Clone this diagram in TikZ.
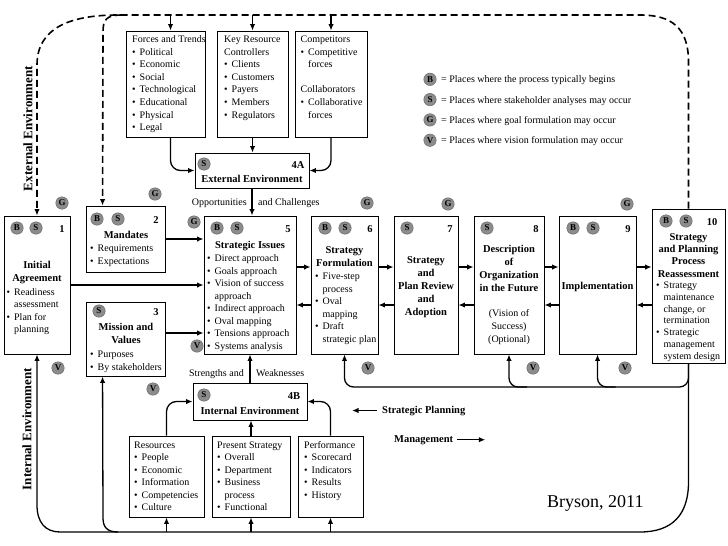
\documentclass[tikz,border=0pt]{standalone}
\usepackage{fontspec}
\setmainfont{Liberation Serif}
\usetikzlibrary{arrows.meta,calc}
\newcommand{\bulmark}{\makebox[7.5pt][l]{\textbullet}}
\newcommand{\bulskip}{\hspace*{7.5pt}}

\begin{document}
\begin{tikzpicture}[x=1pt,y=1pt,yscale=-1,
  font=\fontsize{10}{12.5}\selectfont,
  box/.style={draw, line width=0.9pt, inner sep=0pt},
  badge/.style={circle, fill=black!45, draw=black!60, line width=0.4pt, inner sep=0pt, minimum size=12.5pt, font=\fontsize{9}{9}\selectfont\bfseries},
  head/.style={anchor=base, align=center, inner sep=0pt, font=\fontsize{10.5}{13.3}\selectfont\bfseries},
  num/.style={anchor=base, inner sep=0pt, font=\fontsize{10.5}{13}\selectfont\bfseries},
  items/.style={anchor=base west, align=left, inner sep=0pt},
  flow/.style={line width=1.3pt, -{Latex[length=6.5pt,width=5.5pt]}},
  envflow/.style={line width=1.6pt, dash pattern=on 7pt off 4pt},
  sidelabel/.style={rotate=90, inner sep=0pt, font=\fontsize{13}{13}\selectfont\bfseries}]
\useasboundingbox (0,0) rectangle (728,546);

%Shape: Boxes
\node[box, minimum width=66, minimum height=138] (agree) at (37,285) {};
\node[box, minimum width=79, minimum height=66] (mand) at (125.5,239) {};
\node[box, minimum width=79, minimum height=74] (miss) at (125.5,339) {};
\node[box, minimum width=114, minimum height=35] (extenv) at (252,170.5) {};
\node[box, minimum width=114, minimum height=37] (intenv) at (250,401.5) {};
\node[box, minimum width=92, minimum height=138] (issues) at (250,285) {};
\node[box, minimum width=67, minimum height=138] (form) at (344.5,285) {};
\node[box, minimum width=64, minimum height=138] (review) at (426,285) {};
\node[box, minimum width=70, minimum height=138] (vision) at (509,285) {};
\node[box, minimum width=77, minimum height=138] (impl) at (597.5,285) {};
\node[box, minimum width=73, minimum height=154] (reass) at (688.5,286) {};
\node[box, minimum width=79, minimum height=106] (forces) at (165.5,84) {};
\node[box, minimum width=71, minimum height=106] (keyres) at (252.5,84) {};
\node[box, minimum width=72, minimum height=106] (compet) at (331,84) {};
\node[box, minimum width=75, minimum height=81] (resour) at (166.5,476.5) {};
\node[box, minimum width=78, minimum height=81] (present) at (251,476.5) {};
\node[box, minimum width=65, minimum height=81] (perform) at (330.5,476.5) {};

% Text Node: 1 (multi-line nodes sit on their last baseline)
\node[badge] (agree-b) at (17,228) {B};
\node[badge] (agree-s) at (36,228) {S};
\node[num] (agree-n) at (62,232) {1};
\node[head] (agree-t) at (37,281.8) {Initial\\Agreement};
\node[items, font=\fontsize{10}{12.4}\selectfont] (agree-l) at (6.5,332.7) {\bulmark Readiness\\\bulskip assessment\\\bulmark Plan for\\\bulskip planning};
% Text Node: 2
\node[badge] (mand-b) at (97,219) {B};
\node[badge] (mand-s) at (118,219) {S};
\node[num] (mand-n) at (156,223) {2};
\node[head] (mand-t) at (126,238) {Mandates};
\node[items, font=\fontsize{10}{13.3}\selectfont] (mand-l) at (90,264.3) {\bulmark Requirements\\\bulmark Expectations};
% Text Node: 3
\node[badge] (miss-s) at (99,311) {S};
\node[num] (miss-n) at (156,315) {3};
\node[head] (miss-t) at (126,343.3) {Mission and\\Values};
\node[items, font=\fontsize{10}{13.3}\selectfont] (miss-l) at (90,370.3) {\bulmark Purposes\\\bulmark By stakeholders};
% Text Node: 4A
\node[badge] (extenv-s) at (204,164) {S};
\node[num] (extenv-n) at (298,168) {4A};
\node[head] (extenv-t) at (252,182) {External Environment};
% Text Node: 4B
\node[badge] (intenv-s) at (204,395) {S};
\node[num] (intenv-n) at (294,399) {4B};
\node[head] (intenv-t) at (250,414) {Internal Environment};
% Text Node: 5
\node[badge] (issues-b) at (217,228) {B};
\node[badge] (issues-s) at (237,228) {S};
\node[num] (issues-n) at (288,232) {5};
\node[head] (issues-t) at (250,248.5) {Strategic Issues};
\node[items] (issues-l) at (207,349) {\bulmark Direct approach\\\bulmark Goals approach\\\bulmark Vision of success\\\bulskip approach\\\bulmark Indirect approach\\\bulmark Oval mapping\\\bulmark Tensions approach\\\bulmark Systems analysis};
% Text Node: 6
\node[badge] (form-b) at (325,228) {B};
\node[badge] (form-s) at (345,228) {S};
\node[num] (form-n) at (370,232) {6};
\node[head] (form-t) at (344.5,266.8) {Strategy\\Formulation};
\node[items] (form-l) at (315,342) {\bulmark Five-step\\\bulskip process\\\bulmark Oval\\\bulskip mapping\\\bulmark Draft\\\bulskip strategic plan};
% Text Node: 7
\node[badge] (review-s) at (407,228) {S};
\node[num] (review-n) at (450,232) {7};
\node[head, font=\fontsize{10.5}{13}\selectfont\bfseries] (review-t) at (426,315.5) {Strategy\\and\\Plan Review\\and\\Adoption};
% Text Node: 8
\node[badge] (vision-s) at (487,228) {S};
\node[num] (vision-n) at (536,232) {8};
\node[head, font=\fontsize{10.5}{13}\selectfont\bfseries] (vision-t) at (509,291.5) {Description\\of\\Organization\\in the Future};
\node[anchor=base, align=center, inner sep=0pt, font=\fontsize{10}{13}\selectfont] (vision-l) at (509,342.5) {(Vision of\\Success)\\(Optional)};
% Text Node: 9
\node[badge] (impl-b) at (573,228) {B};
\node[badge] (impl-s) at (593,228) {S};
\node[num] (impl-n) at (628,232) {9};
\node[head] (impl-t) at (597.5,289.5) {Implementation};
% Text Node: 10
\node[badge] (reass-b) at (666,221) {B};
\node[badge] (reass-s) at (686,221) {S};
\node[num] (reass-n) at (712,225) {10};
\node[head, font=\fontsize{10.5}{12.2}\selectfont\bfseries] (reass-t) at (688.5,277.1) {Strategy\\and Planning\\Process\\Reassessment};
\node[items, font=\fontsize{10}{11.8}\selectfont] (reass-l) at (656,359.3) {\bulmark Strategy\\\bulskip maintenance\\\bulskip change, or\\\bulskip termination\\\bulmark Strategic\\\bulskip management\\\bulskip system design};

% Text Node: outer boxes
\node[items, font=\fontsize{10}{12.6}\selectfont] (forces-l) at (132,130.7) {Forces and Trends\\\bulmark Political\\\bulmark Economic\\\bulmark Social\\\bulmark Technological\\\bulmark Educational\\\bulmark Physical\\\bulmark Legal};
\node[items, font=\fontsize{10}{12.6}\selectfont] (keyres-l) at (224,118.1) {Key Resource\\Controllers\\\bulmark Clients\\\bulmark Customers\\\bulmark Payers\\\bulmark Members\\\bulmark Regulators};
\node[items, font=\fontsize{10}{12.6}\selectfont] (compet-l) at (300.5,118.1) {Competitors\\\bulmark Competitive\\\bulskip forces\\\mbox{}\\Collaborators\\\bulmark Collaborative\\\bulskip forces};
\node[items, font=\fontsize{10}{12.4}\selectfont] (resour-l) at (134,510.5) {Resources\\\bulmark People\\\bulmark Economic\\\bulmark Information\\\bulmark Competencies\\\bulmark Culture};
\node[items, font=\fontsize{10}{12.4}\selectfont] (present-l) at (217,510.5) {Present Strategy\\\bulmark Overall\\\bulmark Department\\\bulmark Business\\\bulskip process\\\bulmark Functional};
\node[items, font=\fontsize{10}{12.4}\selectfont] (perform-l) at (304,498.1) {Performance\\\bulmark Scorecard\\\bulmark Indicators\\\bulmark Results\\\bulmark History};

% G and V marks
\node[badge] (agree-g) at (62,203) {G};
\node[badge] (mand-g) at (155,194) {G};
\node[badge] (issues-g) at (194,222) {G};
\node[badge] (form-g) at (367,203) {G};
\node[badge] (review-g) at (448,204) {G};
\node[badge] (impl-g) at (627,204) {G};
\node[badge] (agree-v) at (58,368) {V};
\node[badge] (miss-v) at (153,389) {V};
\node[badge] (issues-v) at (197,346) {V};
\node[badge] (form-v) at (368,368) {V};
\node[badge] (vision-v) at (533,368) {V};
\node[badge] (impl-v) at (625,368) {V};

% Legend
\foreach \l/\txt [count=\i] in {B/the process typically begins, S/stakeholder analyses may occur, G/goal formulation may occur, V/vision formulation may occur} {
  \node[badge] (leg-\l) at (430,{59+20.3*\i}) {\l};
  \node[anchor=base west, inner sep=0pt] (legtxt-\l) at (441,{62.5+20.3*\i}) {= Places where \txt};
}

% Text Node: side and loose labels
\node[sidelabel] (ext-lab) at (28,128.5) {External Environment};
\node[sidelabel] (int-lab) at (27,429) {Internal Environment};
\node[anchor=base east, inner sep=0pt] (opp-lab) at (247,205) {Opportunities};
\node[anchor=base west, inner sep=0pt] (chal-lab) at (258,205) {and Challenges};
\node[anchor=base east, inner sep=0pt] (str-lab) at (244,376) {Strengths and};
\node[anchor=base west, inner sep=0pt] (weak-lab) at (256,376) {Weaknesses};
\node[anchor=base west, inner sep=0pt, font=\fontsize{10.5}{12}\selectfont\bfseries] (splan) at (382,413) {Strategic Planning};
\node[anchor=base west, inner sep=0pt, font=\fontsize{10.5}{12}\selectfont\bfseries] (mgmt) at (394,442) {Management};
\node[anchor=base west, inner sep=0pt, font=\fontsize{18}{18}\selectfont] (cite) at (547,507) {Bryson, 2011};

%Straight Lines: external environment (dashed)
\draw[envflow, -{Latex[length=6.5pt,width=5.5pt]}] (reass.north) -- (688.5,62) .. controls (688.5,28) and (672,15) .. (640,15) -- (118,15) .. controls (70,15) and (37,28) .. (37,65) -- (agree.north);
\draw[envflow, -{Latex[length=6.5pt,width=5.5pt]}] (122,15) .. controls (106,15) and (103,20) .. (103,32) -- ($(mand.north west)+(17,0)$);
\draw[flow] ($(forces.north)+(5,-16)$) -- ($(forces.north)+(5,0)$);
\draw[flow] ($(keyres.north)+(0,-16)$) -- (keyres.north);
\draw[flow] ($(compet.north)+(0,-16)$) -- (compet.north);

%Straight Lines: into 4A and 5
\draw[flow, rounded corners=10] ($(forces.south)+(5,0)$) |- (extenv.west);
\draw[flow] (keyres.south) -- (keyres.south |- extenv.north);
\draw[flow, rounded corners=10] (compet.south) |- (extenv.east);
\draw[flow] (extenv.south) -- (extenv.south |- issues.north);

%Straight Lines: into 5 from the left
\draw[flow] (agree.east) -- (agree.east -| issues.west);
\draw[flow] (mand.east) -- (mand.east -| issues.west);
\path ($(miss.east)+(0,-6)$) coordinate (m3);
\draw[flow] (m3) -- (m3 -| issues.west);

%Straight Lines: between steps
\foreach \a/\b in {issues/form,form/review,review/vision,vision/impl,impl/reass} {
  \path ($(\a.east)+(0,-18)$) coordinate (fw) ($(\a.east)+(0,20)$) coordinate (bw);
  \draw[flow] (fw) -- (fw -| \b.west);
  \draw[flow] (bw -| \b.west) -- (bw);
}

%Straight Lines: into 4B
\draw[flow] (intenv.north) -- (intenv.north |- issues.south);
\draw[flow, rounded corners=10] (resour.north) |- (intenv.west);
\draw[flow] (present.north) -- (present.north |- intenv.south);
\draw[flow, rounded corners=10] (perform.north) |- (intenv.east);

%Curve Lines: internal environment and management
\coordinate (basey) at (0,532);
\coordinate (loopy) at (0,387);
\draw[flow] (reass.south) -- (688.5,482) .. controls (688.5,515) and (672,532) .. (640,532) -- (60,532) .. controls (45,532) and (37,522) .. (37,505) -- (agree.south);
\draw[flow] (118,532) .. controls (107,532) and (103,527) .. (103,518) -- ($(miss.south west)+(17,0)$);
\foreach \b in {resour,present,perform}
  \draw[flow] (\b.south |- basey) -- (\b.south);
\draw[flow, rounded corners=9] (reass.south) |- (form.south |- loopy) -- (form.south);
\foreach \b in {vision,impl}
  \draw[flow, rounded corners=9] ($(\b.south |- loopy)+(18,0)$) -| (\b.south);
\draw[flow] ($(splan.west)+(-5,0)$) -- ++(-25,0);
\draw[flow] ($(mgmt.east)+(4,0)$) -- ++(28,0);

\end{tikzpicture}
\end{document}
